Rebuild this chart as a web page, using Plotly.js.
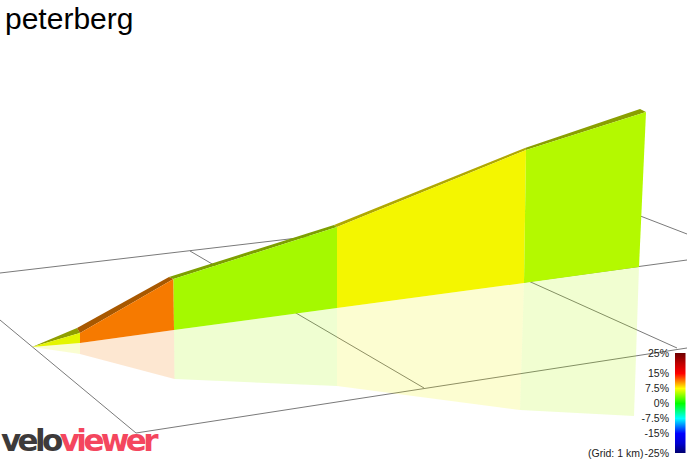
<!DOCTYPE html>
<html><head><meta charset="utf-8">
<script src="https://cdn.plot.ly/plotly-3.0.1.min.js"></script>
<style>html,body{margin:0;padding:0;background:#fff}</style>
</head><body><div id="chart" style="width:687px;height:460px"></div>
<script>
// Projected gradient profile: one entry per segment.
const segX      = [32, 80, 173.5, 337, 526, 646];
const crestY    = [347, 333, 279, 227, 150, 112];
const ridgeX    = [32, 77, 169, 334, 525, 640];
const ridgeY    = [347, 328, 277, 225, 148, 109];
const baseX     = [32, 80, 174, 337, 524, 639];
const baseY     = [347, 343, 330, 308, 283, 267];
const floorX    = [32, 80, 174.5, 337, 520, 634];
const floorY    = [347, 354, 379, 386, 410, 416];
const faceCols  = ['#e4f500', '#f67a00', '#a5f900', '#f4f600', '#b4f900'];
const ridgeCols = ['#8f9e00', '#a85800', '#7d9f00', '#b0a800', '#8a9f00'];
const floorCols = ['rgba(228,245,0,0.18)', 'rgba(246,122,0,0.18)', 'rgba(165,249,0,0.18)', 'rgba(236,246,0,0.18)', 'rgba(180,249,0,0.18)'];
// Ground grid lines
const gridLines = [
  {x:[0, 604], y:[273, 202]},
  {x:[604, 687], y:[202, 234]},
  {x:[190, 424], y:[251, 388]},
  {x:[0, 136], y:[320, 433]},
  {x:[136, 687], y:[433, 348]},
  {x:[524, 677], y:[279, 348]},
  {x:[524, 687], y:[282, 260]}
];
// Gradient legend
const legendVals = [25, 15, 7.5, 0, -7.5, -15, -25];
const legendText = ['25%', '15%', '7.5%', '0%', '-7.5%', '-15%', '-25%'];
const legendZ = [-25, -20, -15, -7.5, 0, 7.5, 15, 20, 25];
const legendScale = [
  [0, '#00006a'], [0.1, '#0000d0'], [0.2, '#0000ff'], [0.35, '#00ffff'],
  [0.5, '#00ff00'], [0.65, '#ffff00'], [0.8, '#ff0000'], [0.9, '#c00000'], [1, '#700000']
];
const logoText = ['<b><span style="fill:#3d3a3a;letter-spacing:-3.6px">velo</span><span style="fill:#f4465e;letter-spacing:-3.6px">viewer</span></b>'];

const traces = [];
gridLines.forEach(l => traces.push({type:'scatter', mode:'lines', x:l.x, y:l.y, hoverinfo:'skip',
  line:{color:'#7a7a7a', width:1}}));
faceCols.forEach((c, i) => {
  traces.push({type:'scatter', mode:'lines', hoverinfo:'skip', fill:'toself', fillcolor:floorCols[i], line:{width:0},
    x:[baseX[i], baseX[i+1], floorX[i+1], floorX[i]], y:[baseY[i], baseY[i+1], floorY[i+1], floorY[i]]});
});
faceCols.forEach((c, i) => {
  traces.push({type:'scatter', mode:'lines', hoverinfo:'skip', fill:'toself', fillcolor:ridgeCols[i], line:{width:0},
    x:[ridgeX[i], ridgeX[i+1], segX[i+1], segX[i]], y:[ridgeY[i], ridgeY[i+1], crestY[i+1], crestY[i]]});
  traces.push({type:'scatter', mode:'lines', hoverinfo:'skip', fill:'toself', fillcolor:c, line:{width:0},
    x:[segX[i], segX[i+1], baseX[i+1], baseX[i]], y:[crestY[i], crestY[i+1], baseY[i+1], baseY[i]]});
});
traces.push({type:'scatter', mode:'text', x:[1], y:[443], text:logoText, textposition:'middle right', hoverinfo:'skip',
  cliponaxis:false, textfont:{size:31, family:'"DejaVu Sans", sans-serif', color:'#3d3a3a'}});
traces.push({type:'heatmap', xaxis:'x2', yaxis:'y2', x:[0, 1], y:legendZ, z:legendZ.map(v => [v, v]),
  colorscale:legendScale, zmin:-25, zmax:25, showscale:false, hoverinfo:'skip', zsmooth:'best'});

const layout = {
  width:687, height:460, margin:{l:0, r:0, t:0, b:0}, paper_bgcolor:'#fff', plot_bgcolor:'#fff',
  showlegend:false,
  font:{family:'"Liberation Sans", Arial, sans-serif', color:'#222'},
  title:{text:'peterberg', x:5/687, xanchor:'left', xref:'paper', y:1-29/460, yref:'paper', yanchor:'bottom',
    font:{size:30, color:'#000', family:'"Liberation Sans", Arial, sans-serif'}, automargin:false},
  xaxis:{range:[0, 687], visible:false, fixedrange:true},
  yaxis:{range:[460, 0], visible:false, fixedrange:true},
  xaxis2:{domain:[675/687, 685.5/687], anchor:'y2', range:[0, 1], visible:false},
  yaxis2:{domain:[7/460, 107/460], anchor:'x2', range:[-25, 25], side:'left', tickmode:'array',
    tickvals:legendVals, ticktext:legendText, ticks:'', showgrid:false, zeroline:false, showline:false,
    tickfont:{size:10.5, color:'#222'}, ticklabelstandoff:5},
  annotations:[
    {xref:'paper', yref:'paper', x:645/687, y:7/460, xanchor:'right', yanchor:'middle', showarrow:false,
     text:'(Grid: 1 km)', font:{size:10.5, color:'#222'}}
  ]
};
Plotly.newPlot('chart', traces, layout, {displayModeBar:false, staticPlot:true});
</script></body></html>
